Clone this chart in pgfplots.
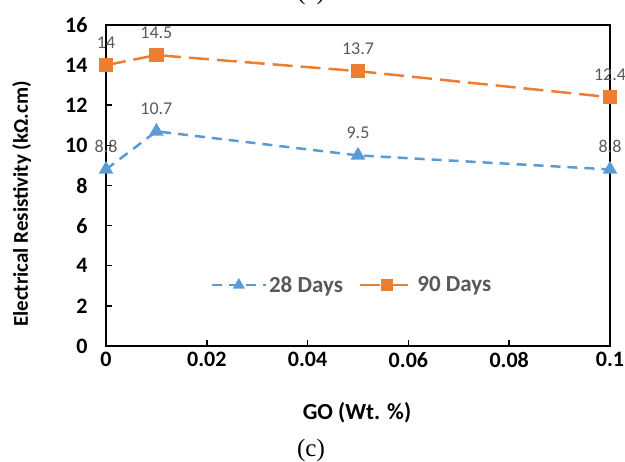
\documentclass[border=0pt]{standalone}
\usepackage{pgfplots}
\pgfplotsset{compat=1.18}
\usepackage{fontspec}
\setmainfont{Carlito}
\newfontfamily\timesfont{Liberation Serif}
\definecolor{cblue}{HTML}{5B9BD5}
\definecolor{corange}{HTML}{ED7D31}
\definecolor{lgray}{HTML}{595959}
\begin{document}
\begin{tikzpicture}[x=1pt,y=1pt]
\useasboundingbox (0,0) rectangle (625,462);
\node[font=\timesfont\fontsize{25}{25}\selectfont] at (311,469) {(a)};
\node[font=\timesfont\fontsize{25}{25}\selectfont] at (311,12) {(c)};
\begin{axis}[
  at={(106pt,116pt)}, anchor=south west,
  scale only axis, width=504pt, height=321pt,
  xmin=0, xmax=0.1, ymin=0, ymax=16,
  clip=false,
  xtick={0,0.02,0.04,0.06,0.08,0.1},
  xticklabels={0,0.02,0.04,0.06,0.08,0.1},
  ytick={0,2,4,6,8,10,12,14,16},
  yticklabels={0,2,4,6,8,10,12,14,16},
  tick align=inside, xtick pos=bottom, ytick pos=left,
  major tick length=6pt,
  tick style={black, line width=1.5pt},
  axis line style={black, line width=2.5pt},
  ticklabel style={font=\fontsize{22}{22}\selectfont\bfseries, text=black},
  xticklabel style={yshift=-3pt},
  yticklabel style={xshift=-15pt},
  xlabel={GO (Wt. \%)},
  ylabel={Electrical Resistivity (kΩ.cm)},
  xlabel style={font=\fontsize{23}{23}\selectfont\bfseries, at={(axis description cs:0.498,-0.209)}, anchor=center},
  ylabel style={font=\fontsize{21}{21}\selectfont\bfseries, at={(axis description cs:-0.167,0.442)}, anchor=center},
  legend style={at={(axis description cs:0.488,0.19)}, anchor=center,
    draw=none, fill=none, legend columns=2,
    font=\fontsize{23}{23}\selectfont\bfseries, text=lgray,
    /tikz/every even column/.append style={column sep=14pt}},
  legend image code/.code={\draw[mark repeat=2,mark phase=2,#1,mark size=4.5pt] plot coordinates {(0pt,0pt) (27pt,0pt) (54pt,0pt)};},
  nodes near coords, point meta=explicit symbolic,
  every node near coord/.append style={font=\fontsize{18}{18}\selectfont, text=lgray, anchor=base, yshift=17pt},
]
\addplot[cblue, line width=2.5pt, dash pattern=on 10pt off 7pt, mark=triangle*, mark size=6pt, mark options={solid}]
  coordinates {(0,8.8)[8.8] (0.01,10.7)[10.7] (0.05,9.5)[9.5] (0.1,8.8)[8.8]};
\addlegendentry{28 Days}
\addplot[corange, line width=2.5pt, dash pattern=on 20pt off 8pt, mark=square*, mark size=6pt, mark options={solid}]
  coordinates {(0,14)[14] (0.01,14.5)[14.5] (0.05,13.7)[13.7] (0.1,12.4)[12.4]};
\addlegendentry{90 Days}
\end{axis}
\end{tikzpicture}
\end{document}
